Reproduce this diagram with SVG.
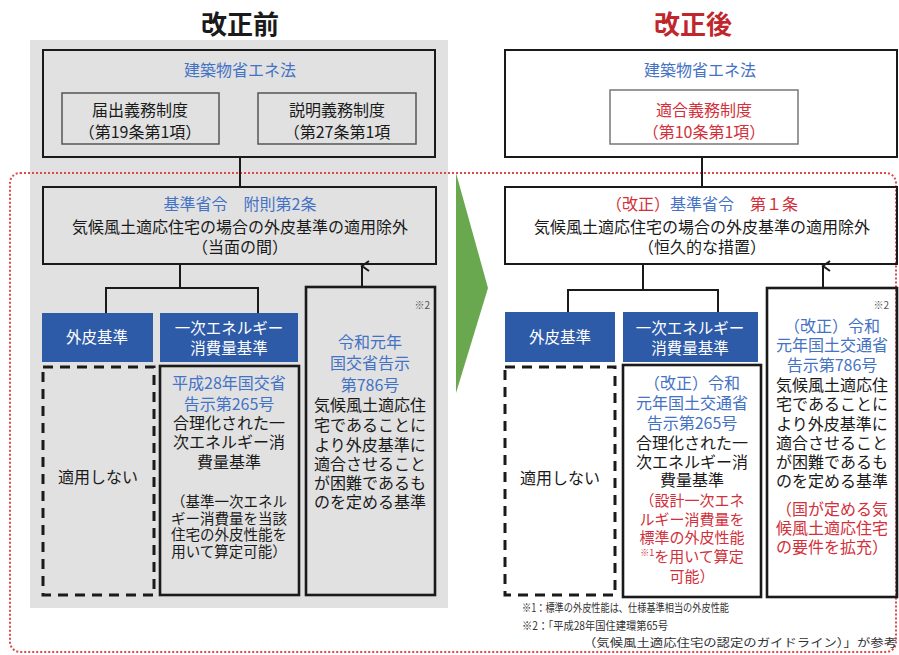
<svg xmlns="http://www.w3.org/2000/svg" width="899" height="655" viewBox="0 0 899 655">
<style>
text{font-family:"Noto Sans CJK JP","Noto Sans",sans-serif;fill:#1a1a1a;font-size:16px}
.c{text-anchor:middle}
.b{fill:#4472c4}
.r{fill:#d2303a}
.w{fill:#ffffff;font-size:15.5px}
.s{font-size:14.5px}
.n{font-size:10px;fill:#555}
.fn{font-size:11.5px;fill:#333}
.box{stroke:#1a1a1a;stroke-width:2;fill:none}
.thick{stroke:#1a1a1a;stroke-width:2.6;fill:none}
.sub{stroke:#555;stroke-width:1.5;fill:none}
.dash{stroke:#1a1a1a;stroke-width:3;fill:none;stroke-dasharray:10 7}
.blue{fill:#2e5ba8}
.ln{stroke:#1a1a1a;stroke-width:2;fill:none}
</style>
<defs>
<marker id="ah" markerWidth="12" markerHeight="10" refX="6" refY="2" orient="auto-start-reverse" markerUnits="userSpaceOnUse" viewBox="0 0 12 10">
<path d="M1 9 L6 2 L11 9" fill="none" stroke="#1a1a1a" stroke-width="2"/>
</marker>
</defs>
<rect width="899" height="655" fill="#ffffff"/>
<rect x="30" y="40" width="418" height="568" fill="#e1e1e1"/>
<rect x="10" y="173" width="886" height="479" rx="10" fill="none" stroke="#e04848" stroke-width="2" stroke-dasharray="2 2"/>
<polygon points="456,173 488,288 456,393" fill="#6aa84f"/>

<text class="c" x="240" y="34" style="font-size:26px;font-weight:700">改正前</text>
<text class="c" x="693" y="34" style="font-size:26px;font-weight:700;fill:#c0272d">改正後</text>

<g id="connectors">
<line class="ln" x1="240" y1="157" x2="240" y2="187"/>
<polyline class="ln" points="180,264 180,288"/>
<polyline class="ln" points="106,313 106,288 258,288 258,313"/>
<line class="ln" x1="362" y1="287" x2="362" y2="266" marker-end="url(#ah)"/>
<line class="ln" x1="702" y1="157" x2="702" y2="187"/>
<polyline class="ln" points="643,264 643,290"/>
<polyline class="ln" points="568,312 568,290 718,290 718,312"/>
<line class="ln" x1="823" y1="288" x2="823" y2="266" marker-end="url(#ah)"/>
</g>

<g id="left-law">
<rect class="box" x="43" y="50" width="392" height="107"/>
<text class="c b" x="240" y="76">建築物省エネ法</text>
</g>
<g id="left-todoke">
<rect class="sub" x="62" y="93" width="157" height="51"/>
<text class="c" x="140" y="116">届出義務制度</text>
<text class="c" x="140" y="138">（第19条第1項）</text>
</g>
<g id="left-setsumei">
<rect class="sub" x="258" y="93" width="158" height="51"/>
<text class="c" x="337" y="116">説明義務制度</text>
<text class="c" x="337" y="138">（第27条第1項</text>
</g>
<g id="left-shourei">
<rect class="box" x="43" y="187" width="393" height="77"/>
<text class="c b" x="240" y="210">基準省令　附則第2条</text>
<text class="c" x="240" y="233">気候風土適応住宅の場合の外皮基準の適用除外</text>
<text class="c" x="240" y="253">（当面の間）</text>
</g>
<g id="left-gaihi">
<rect class="blue" x="42" y="313" width="111" height="49"/>
<text class="c w" x="97" y="343">外皮基準</text>
</g>
<g id="left-ichiji">
<rect class="blue" x="160" y="313" width="138" height="49"/>
<text class="c w" x="229" y="334">一次エネルギー</text>
<text class="c w" x="229" y="354">消費量基準</text>
</g>
<g id="left-tekiyou">
<rect class="dash" x="43" y="367" width="111" height="228"/>
<text class="c" x="98" y="483">適用しない</text>
</g>
<g id="left-265">
<rect class="thick" x="160" y="366" width="139" height="229"/>
<text class="c b" x="229" y="389">平成28年国交省</text>
<text class="c b" x="229" y="410">告示第265号</text>
<text class="c" x="229" y="429">合理化された一</text>
<text class="c" x="229" y="448">次エネルギー消</text>
<text class="c" x="229" y="468">費量基準</text>
<text class="c s" x="229" y="507">（基準一次エネル</text>
<text class="c s" x="229" y="524">ギー消費量を当該</text>
<text class="c s" x="229" y="540">住宅の外皮性能を</text>
<text class="c s" x="229" y="557">用いて算定可能）</text>
</g>
<g id="left-786">
<rect class="thick" x="306" y="287" width="129" height="308"/>
<text class="n" x="430" y="309" text-anchor="end">※2</text>
<text class="c b" x="370" y="348">令和元年</text>
<text class="c b" x="370" y="369">国交省告示</text>
<text class="c b" x="370" y="391">第786号</text>
<text class="c" x="370" y="411">気候風土適応住</text>
<text class="c" x="370" y="431">宅であることに</text>
<text class="c" x="370" y="451">より外皮基準に</text>
<text class="c" x="370" y="470">適合させること</text>
<text class="c" x="370" y="489">が困難であるも</text>
<text class="c" x="370" y="508">のを定める基準</text>
</g>

<g id="right-law">
<rect class="box" x="505" y="50" width="392" height="107" fill="#fff"/>
<text class="c b" x="700" y="76">建築物省エネ法</text>
</g>
<g id="right-tekigou">
<rect x="610" y="90" width="188" height="54" fill="none" stroke="#777" stroke-width="1.5"/>
<text class="c r" x="704" y="116">適合義務制度</text>
<text class="c r" x="704" y="138">（第10条第1項）</text>
</g>
<g id="right-shourei">
<rect class="box" x="505" y="187" width="392" height="77"/>
<text class="c" x="702" y="210"><tspan class="r">（改正）</tspan><tspan class="b">基準省令</tspan><tspan class="r">　第１条</tspan></text>
<text class="c" x="702" y="233">気候風土適応住宅の場合の外皮基準の適用除外</text>
<text class="c" x="702" y="253">（恒久的な措置）</text>
</g>
<g id="right-gaihi">
<rect class="blue" x="505" y="312" width="110" height="50"/>
<text class="c w" x="560" y="343">外皮基準</text>
</g>
<g id="right-ichiji">
<rect class="blue" x="623" y="312" width="135" height="50"/>
<text class="c w" x="690" y="334">一次エネルギー</text>
<text class="c w" x="690" y="354">消費量基準</text>
</g>
<g id="right-tekiyou">
<rect class="dash" x="505" y="367" width="110" height="228"/>
<text class="c" x="560" y="484">適用しない</text>
</g>
<g id="right-265">
<rect class="thick" x="623" y="365" width="138" height="232"/>
<text class="c b" x="692" y="389">（改正）令和</text>
<text class="c b" x="692" y="409">元年国土交通省</text>
<text class="c b" x="692" y="429">告示第265号</text>
<text class="c" x="692" y="449">合理化された一</text>
<text class="c" x="692" y="468">次エネルギー消</text>
<text class="c" x="692" y="486">費量基準</text>
<text class="c r" x="692" y="506" style="font-size:15px">（設計一次エネ</text>
<text class="c r" x="692" y="525" style="font-size:15px">ルギー消費量を</text>
<text class="c r" x="692" y="543" style="font-size:15px">標準の外皮性能</text>
<text class="c r" x="692" y="562" style="font-size:15px"><tspan style="font-size:9px" dy="-6">※1</tspan><tspan dy="6">を用いて算定</tspan></text>
<text class="c r" x="692" y="582" style="font-size:15px">可能）</text>
</g>
<g id="right-786">
<rect class="thick" x="767" y="288" width="130" height="309"/>
<text class="n" x="889" y="309" text-anchor="end">※2</text>
<text class="c b" x="832" y="332">（改正）令和</text>
<text class="c b" x="832" y="351">元年国土交通省</text>
<text class="c b" x="832" y="371">告示第786号</text>
<text class="c" x="832" y="391">気候風土適応住</text>
<text class="c" x="832" y="410">宅であることに</text>
<text class="c" x="832" y="430">より外皮基準に</text>
<text class="c" x="832" y="449">適合させること</text>
<text class="c" x="832" y="468">が困難であるも</text>
<text class="c" x="832" y="487">のを定める基準</text>
<text class="c r" x="832" y="515" style="font-size:16px">（国が定める気</text>
<text class="c r" x="832" y="534" style="font-size:16px">候風土適応住宅</text>
<text class="c r" x="832" y="553" style="font-size:16px">の要件を拡充）</text>
</g>
<g id="footnotes">
<text class="fn" x="522" y="612" textLength="207" lengthAdjust="spacingAndGlyphs">※1：標準の外皮性能は、仕様基準相当の外皮性能</text>
<text class="fn" x="522" y="630" textLength="146" lengthAdjust="spacingAndGlyphs">※2：「平成28年国住建環第65号</text>
<text class="fn" x="583" y="647" textLength="314" lengthAdjust="spacingAndGlyphs">（気候風土適応住宅の認定のガイドライン）」が参考</text>
</g>
</svg>
